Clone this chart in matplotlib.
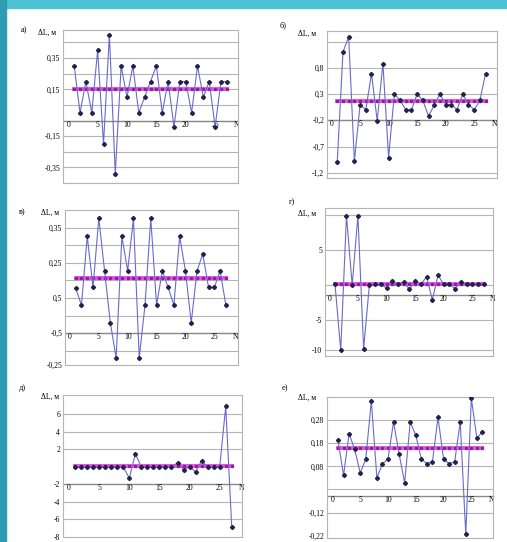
import numpy as np
import matplotlib
matplotlib.use('Agg')
import matplotlib.pyplot as plt
from matplotlib.patches import Rectangle

plt.rcParams['font.family'] = ['Liberation Serif', 'DejaVu Serif']

# values, N = 1..27 in every panel
N = np.arange(1, 28)

dl_a = [0.3, 0.0, 0.2, 0.0, 0.4, -0.2, 0.5, -0.39, 0.3, 0.1, 0.3, 0.0, 0.1, 0.2,
        0.3, 0.0, 0.2, -0.09, 0.2, 0.2, 0.0, 0.3, 0.1, 0.2, -0.09, 0.2, 0.2]
dl_b = [-0.99, 1.1, 1.39, -0.98, 0.1, 0.0, 0.69, -0.21, 0.88, -0.91, 0.3, 0.18, 0.0, 0.0,
        0.3, 0.18, -0.12, 0.09, 0.3, 0.1, 0.1, 0.0, 0.3, 0.1, 0.0, 0.18, 0.69]
dl_c = [0.178, 0.13, 0.325, 0.18, 0.376, 0.227, 0.08, -0.02, 0.325, 0.227, 0.376, -0.02, 0.13, 0.376,
        0.13, 0.227, 0.18, 0.13, 0.325, 0.227, 0.08, 0.227, 0.275, 0.18, 0.18, 0.227, 0.13]
dl_d = [0.1, -9.3, 9.9, 0.0, 9.9, -9.05, 0.0, 0.1, 0.1, -0.4, 0.57, 0.1, 0.38, -0.57,
        0.57, 0.1, 1.2, -2.1, 1.43, 0.1, 0.1, -0.48, 0.48, 0.1, 0.1, 0.1, 0.1]
dl_e = [0.0, 0.0, 0.0, 0.0, 0.0, 0.0, 0.0, 0.0, 0.0, -1.3, 1.5, 0.0, 0.0, 0.0,
        0.0, 0.0, 0.0, 0.46, -0.3, 0.0, -0.57, 0.69, 0.0, 0.0, 0.0, 6.9, -6.9]
dl_f = [0.193, 0.041, 0.221, 0.154, 0.051, 0.112, 0.363, 0.03, 0.091, 0.112, 0.272, 0.133, 0.009, 0.272,
        0.215, 0.112, 0.091, 0.1, 0.292, 0.112, 0.091, 0.1, 0.272, -0.214, 0.374, 0.201, 0.23]

means = {'a': 0.15, 'b': 0.16, 'c': 0.208, 'd': 0.1, 'e': 0.1, 'f': 0.16}

letters = ['а)', 'б)', 'в)', 'г)', 'д)', 'е)']

ytick_a = [0.35, 0.15, -0.15, -0.35]
ylab_a = ['0,35', '0,15', '-0,15', '-0,35']
ytick_b = [0.8, 0.3, -0.2, -0.7, -1.2]
ylab_b = ['0,8', '0,3', '-0,2', '-0,7', '-1,2']
ytick_c = [0.35, 0.25, 0.15, 0.052, -0.04]
ylab_c = ['0,35', '0,25', '0,5', '-0,5', '-0,25']
ytick_d = [5, -5, -9.3]
ylab_d = ['5', '-5', '-10']
ytick_e = [6, 4, 2, -2, -4, -6, -8]
ylab_e = ['6', '4', '2', '-2', '-4', '-6', '-8']
ytick_f = [0.28, 0.18, 0.08, -0.12, -0.22]
ylab_f = ['0,28', '0,18', '0,08', '-0,12', '-0,22']

xlab = ['0', '5', '10', '15', '20', '25', 'N']
xlab_pos = [0, 5, 10, 15, 20, 25, 28.6]

W, H = 507, 542
fig = plt.figure(figsize=(W / 100, H / 100), dpi=100)
fig.patch.set_facecolor('white')
# teal frame of the slide
fig.patches.append(Rectangle((0, 1 - 8 / H), 1, 8 / H, transform=fig.transFigure,
                             color='#4cc3d2', zorder=0))
fig.patches.append(Rectangle((0, 0), 6 / W, 1, transform=fig.transFigure,
                             color='#2e9db3', zorder=0))


def px_box(x0, y0, x1, y1):
    return [x0 / W, 1 - y1 / H, (x1 - x0) / W, (y1 - y0) / H]


def panel(box, y, mean, ylim, xlim, grid, yt, yl, xaxis, letter, letter_xy, lab_xy):
    ax = fig.add_axes(px_box(*box))
    ax.set_xlim(*xlim)
    ax.set_ylim(*ylim)
    for g in grid:
        ax.axhline(g, color='#b5b5b5', lw=0.8, zorder=1)
    ax.axhline(xaxis, color='#8a8a8a', lw=1.0, zorder=1)
    for s in ax.spines.values():
        s.set_color('#b5b5b5')
        s.set_linewidth(0.8)
    ax.set_xticks([])
    ax.set_yticks(yt)
    ax.set_yticklabels(yl, fontsize=5.5)
    ax.tick_params(axis='y', length=0, pad=2)
    for p, t in zip(xlab_pos, xlab):
        ax.text(p, xaxis, t, fontsize=5.5, ha='center', va='top', zorder=2)
    ax.plot(N, [mean] * len(N), color='#e83ce8', lw=2.8, zorder=3, alpha=0.9,
            marker='s', ms=1.6, mfc='#8a2090', mec='#8a2090')
    ax.plot(N, y, color='#6a6ad0', lw=0.8, zorder=4,
            marker='D', ms=2.1, mfc='#23234a', mec='#23234a')
    fig.text(letter_xy[0] / W, 1 - letter_xy[1] / H, letter, fontsize=6,
             ha='center', va='center')
    fig.text(lab_xy[0] / W, 1 - lab_xy[1] / H, 'ΔL, м', fontsize=5.5,
             ha='center', va='center')
    return ax


panel((63, 30, 238, 183), dl_a, means['a'], (-0.45, 0.53), (-0.9, 28.9),
      np.arange(-0.45, 0.5, 0.1), ytick_a, ylab_a, -0.05, letters[0], (24, 30), (47, 33))
panel((327, 31, 497, 178), dl_b, means['b'], (-1.3, 1.5), (-0.8, 29.0),
      [-1.2, -0.7, -0.2, 0.3, 0.8, 1.3], ytick_b, ylab_b, -0.2, letters[1], (283, 25), (307, 34))
panel((65, 210, 238, 365), dl_c, means['c'], (-0.04, 0.4), (-0.85, 29.1),
      np.arange(-0.05, 0.4, 0.05), ytick_c, ylab_c, 0.05, letters[2], (22, 212), (50, 213))
panel((325, 208, 493, 356), dl_d, means['d'], (-10.1, 11), (-0.75, 28.6),
      [10, 5, 0, -5, -9.3], ytick_d, ylab_d, -1.4, letters[3], (292, 202), (307, 214))
panel((63, 395, 242, 537), dl_e, means['e'], (-8, 8.2), (-1.0, 28.7),
      [6, 4, 2, -4, -6], ytick_e, ylab_e, -2, letters[4], (22, 388), (50, 397))
panel((327, 397, 493, 538), dl_f, means['f'], (-0.23, 0.38), (-0.98, 28.9),
      [0.28, 0.18, 0.08, -0.02, -0.12], ytick_f, ylab_f, -0.05, letters[5], (285, 388), (307, 398))

fig.savefig('out.png', dpi=100)
